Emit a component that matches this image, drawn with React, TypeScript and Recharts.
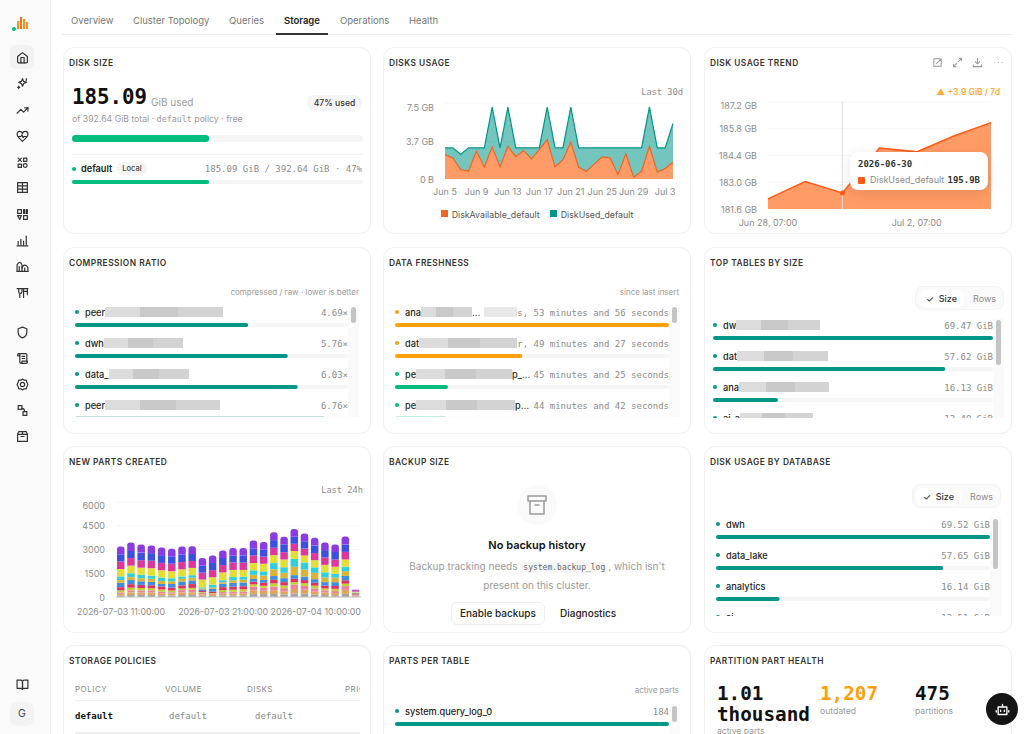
import type { CSSProperties, ReactNode } from 'react'
import {
  Area,
  AreaChart,
  Bar,
  BarChart,
  CartesianGrid,
  Legend,
  Tooltip,
  XAxis,
  YAxis,
} from 'recharts'

const SANS = 'Inter, "Noto Sans", sans-serif'
const MONO = '"DejaVu Sans Mono", monospace'
const GREEN = '#00bd7e'
const TEAL = '#009688'
const AMBER = '#ff9f0a'
const GRID = '#f6f6f6'
const TICK = '#8a8a8a'

// disks usage, GB per day
const usageDays = [
  'Jun 5', 'Jun 6', 'Jun 7', 'Jun 8', 'Jun 9', 'Jun 10', 'Jun 11', 'Jun 12', 'Jun 13', 'Jun 14',
  'Jun 15', 'Jun 16', 'Jun 17', 'Jun 18', 'Jun 19', 'Jun 20', 'Jun 21', 'Jun 22', 'Jun 23', 'Jun 24',
  'Jun 25', 'Jun 26', 'Jun 27', 'Jun 28', 'Jun 29', 'Jun 30', 'Jul 1', 'Jul 2', 'Jul 3', 'Jul 4',
]
const diskAvailable = [
  2.41, 2.08, 0.92, 0.79, 2.74, 1.19, 3.17, 1.19, 3.23, 2.21,
  2.8, 1.98, 2.9, 3.89, 1.19, 1.91, 3.63, 1.16, 0.76, 1.49,
  2.18, 2.08, 0.43, 2.48, 0.17, 0.76, 3.23, 0.69, 1.02, 1.68,
]
const diskUsed = [
  3.07, 3.07, 2.41, 3.07, 3.07, 3.07, 7.1, 3.07, 7.1, 3.07,
  3.07, 3.07, 3.07, 7.1, 3.07, 3.07, 7.1, 3.07, 3.07, 3.07,
  3.07, 3.07, 3.07, 3.07, 3.07, 3.07, 7.1, 3.07, 3.07, 5.48,
]
const usageTicks = [0, 1.9, 3.7, 7.5]

// disk usage trend
const trendDates = ['2026-06-28', '2026-06-29', '2026-06-30', '2026-07-01', '2026-07-02', '2026-07-03', '2026-07-04']
const trendLabels = ['Jun 28, 07:00', 'Jun 29, 07:00', 'Jun 30, 07:00', 'Jul 1, 07:00', 'Jul 2, 07:00', 'Jul 3, 07:00', 'Jul 4, 07:00']
const trendValues = [182.13, 183.04, 182.44, 184.79, 184.59, 185.42, 186.12]
const trendTicks = [181.6, 183.0, 184.4, 185.8, 187.2]

// new parts created, one array per stacked series, bottom to top
const partHours = [
  '2026-07-03 11:00:00', '2026-07-03 12:00:00', '2026-07-03 13:00:00', '2026-07-03 14:00:00',
  '2026-07-03 15:00:00', '2026-07-03 16:00:00', '2026-07-03 17:00:00', '2026-07-03 18:00:00',
  '2026-07-03 19:00:00', '2026-07-03 20:00:00', '2026-07-03 21:00:00', '2026-07-03 22:00:00',
  '2026-07-03 23:00:00', '2026-07-04 00:00:00', '2026-07-04 01:00:00', '2026-07-04 02:00:00',
  '2026-07-04 03:00:00', '2026-07-04 04:00:00', '2026-07-04 05:00:00', '2026-07-04 06:00:00',
  '2026-07-04 07:00:00', '2026-07-04 08:00:00', '2026-07-04 09:00:00', '2026-07-04 10:00:00',
]
const partsGray = [100, 130, 133, 130, 113, 100, 126, 137, 80, 57, 103, 100, 100, 186, 180, 193, 160, 220, 210, 155, 130, 115, 200, 40]
const partsOrange = [100, 160, 150, 150, 120, 110, 160, 160, 90, 70, 110, 120, 130, 230, 210, 240, 200, 290, 250, 200, 150, 130, 250, 45]
const partsPink = [90, 130, 130, 140, 110, 90, 150, 160, 90, 50, 100, 110, 120, 230, 200, 230, 200, 280, 240, 190, 140, 130, 240, 40]
const partsLime = [130, 170, 150, 130, 130, 110, 100, 120, 50, 70, 120, 130, 140, 150, 120, 200, 170, 150, 170, 170, 120, 140, 150, 30]
const partsCrimson = [200, 220, 200, 190, 200, 180, 200, 240, 70, 90, 190, 190, 190, 170, 190, 220, 210, 210, 200, 180, 180, 180, 220, 40]
const partsBlue = [280, 260, 230, 220, 150, 230, 240, 230, 100, 170, 210, 240, 240, 170, 180, 240, 250, 230, 220, 230, 220, 240, 270, 50]
const partsGold = [170, 190, 190, 190, 190, 170, 170, 170, 70, 90, 100, 170, 170, 260, 270, 430, 340, 530, 440, 400, 300, 290, 300, 30]
const partsCyan = [230, 240, 220, 200, 220, 190, 150, 160, 60, 180, 130, 200, 190, 290, 270, 390, 350, 500, 450, 350, 320, 240, 280, 0]
const partsYellow = [470, 480, 450, 470, 460, 450, 450, 460, 490, 470, 490, 450, 430, 460, 480, 500, 490, 490, 440, 450, 470, 450, 460, 60]
const partsMagenta = [480, 480, 470, 470, 460, 470, 460, 440, 440, 450, 470, 470, 460, 480, 450, 470, 460, 460, 440, 450, 470, 450, 480, 60]
const partsIndigo = [450, 450, 480, 480, 490, 470, 480, 440, 430, 450, 440, 440, 460, 440, 450, 480, 490, 450, 460, 470, 460, 480, 460, 0]
const partsPurple = [490, 530, 510, 480, 480, 470, 500, 490, 500, 470, 470, 480, 470, 500, 480, 500, 480, 490, 490, 490, 480, 470, 510, 70]
const partSeries = [partsGray, partsOrange, partsPink, partsLime, partsCrimson, partsBlue, partsGold, partsCyan, partsYellow, partsMagenta, partsIndigo, partsPurple]
const partColors = ['#a3a3a3', '#e0a457', '#e9829f', '#bcd52f', '#e4305f', '#3f8de2', '#dcb435', '#2fd0de', '#e3de36', '#de379b', '#3c50e0', '#8b3be2']
const partTicks = ['2026-07-03 11:00:00', '2026-07-03 21:00:00', '2026-07-04 10:00:00']

// meter lists
const diskTotal = 392.64
const diskUsedNow = 185.09

const compressionNames = ['peer', 'dwh', 'data_', 'peer']
const compressionMasks = [118, 79, 80, 115]
const compressionRatios = [4.69, 5.76, 6.03, 6.76]
const compressionLabels = ['4.69×', '5.76×', '6.03×', '6.76×']

const freshnessNames = ['ana', 'dat', 'pe', 'pe']
const freshnessMasks = [51, 98, 96, 99]
const freshnessTails = ['…', '', 'p_…', 'p…']
const freshnessHours = [26.9, 12.5, 5.2, 5.0]
const freshnessLabels = ['s, 53 minutes and 56 seconds', 'r, 49 minutes and 27 seconds', '45 minutes and 25 seconds', '44 minutes and 42 seconds']
const freshnessLeadMasks = [33, 0, 0, 0]
const freshnessColors = [AMBER, AMBER, GREEN, GREEN]

const tableNames = ['dw', 'dat', 'ana', 'ai_a']
const tableMasks = [84, 91, 90, 73]
const tableSizes = [69.47, 57.62, 16.13, 12.49]
const tableLabels = ['69.47 GiB', '57.62 GiB', '16.13 GiB', '12.49 GiB']

const databaseNames = ['dwh', 'data_lake', 'analytics', 'ai']
const databaseSizes = [69.52, 57.65, 16.14, 12.51]
const databaseLabels = ['69.52 GiB', '57.65 GiB', '16.14 GiB', '12.51 GiB']

const partsTableNames = ['system.query_log_0']
const partsTableCounts = [184]

const policyHeaders = ['POLICY', 'VOLUME', 'DISKS', 'PRIORITY']
const policyRow = ['default', 'default', 'default']

const tabs = ['Overview', 'Cluster Topology', 'Queries', 'Storage', 'Operations', 'Health']
const tabLefts = [71, 133, 229, 284, 340, 409]

const abs = (left: number, top: number, extra: CSSProperties = {}): CSSProperties => ({
  position: 'absolute',
  left,
  top,
  ...extra,
})

function Card({ left, top, height = 187, title, children }: { left: number; top: number; height?: number; title: string; children?: ReactNode }) {
  return (
    <div style={abs(left, top, { width: 308, height, border: '1px solid #f1f1f1', borderRadius: 11, boxSizing: 'border-box', background: '#fff' })}>
      <div style={abs(5, 8.5, { fontSize: 8.4, fontWeight: 600, letterSpacing: 0.48, color: '#333', lineHeight: '12px', whiteSpace: 'nowrap' })}>{title}</div>
      {children}
    </div>
  )
}

function Meter({ value, max, color, width, height = 4 }: { value: number; max: number; color: string; width: number; height?: number }) {
  const radius = height / 2
  return (
    <BarChart width={width} height={height} data={[{ name: 'v', value }]} layout="vertical" margin={{ top: 0, right: 0, bottom: 0, left: 0 }} barCategoryGap={0}>
      <XAxis type="number" hide domain={[0, max]} />
      <YAxis type="category" dataKey="name" hide />
      <Bar dataKey="value" fill={color} radius={radius} background={{ fill: '#f5f5f5', radius }} isAnimationActive={false} />
    </BarChart>
  )
}

function Mask({ width, light }: { width: number; light?: boolean }) {
  const bg = light
    ? '#e8e8e8'
    : 'linear-gradient(90deg,#dcdcdc 0 30%,#c9c9c9 30% 62%,#d3d3d3 62% 100%)'
  return <span style={{ display: 'inline-block', width, height: 10, background: bg, verticalAlign: -1.5, filter: 'blur(0.4px)' }} />
}

type ListProps = {
  left: number
  top: number
  width: number
  clip: number
  names: string[]
  masks?: number[]
  tails?: string[]
  values: number[]
  max: number
  labels: string[]
  leadMasks?: number[]
  colors?: string[]
  thumb: number
  trackRight?: number
}

// rows of dot + name + value over a meter, in a clipped scroll area
function MeterList({ left, top, width, clip, names, masks, tails, values, max, labels, leadMasks, colors, thumb, trackRight = 11 }: ListProps) {
  return (
    <>
      <div style={abs(left, top, { width, height: clip, overflow: 'hidden' })}>
        {names.map((name, i) => {
          const color = colors ? colors[i] : TEAL
          return (
            <div key={i} style={abs(0, 31 * i, { width, height: 31 })}>
              <div style={abs(0, 5, { width: 4, height: 4, borderRadius: 2, background: color })} />
              <div style={abs(10, 1.5, { fontSize: 9.2, fontWeight: 500, color: '#222', lineHeight: '12px', whiteSpace: 'nowrap' })}>
                {name}
                {masks && <Mask width={masks[i]} />}
                {tails && tails[i]}
              </div>
              <div style={abs(0, 1.5, { width, textAlign: 'right', fontFamily: MONO, fontSize: 9, color: '#8a8a8a', lineHeight: '12px', whiteSpace: 'nowrap' })}>
                {leadMasks && leadMasks[i] > 0 && <Mask width={leadMasks[i]} light />}
                {labels[i]}
              </div>
              <div style={abs(0, 18, { opacity: i === 3 ? 0.25 : 1 })}>
                <Meter value={values[i]} max={max} color={color} width={width} />
              </div>
            </div>
          )
        })}
      </div>
      <div style={abs(left + width, top, { width: trackRight, height: clip, background: '#fafafa' })}>
        <div style={abs(3, 2, { width: 5, height: thumb, borderRadius: 3, background: '#c4c4c4' })} />
      </div>
    </>
  )
}

function SizeToggle({ left, top }: { left: number; top: number }) {
  return (
    <div style={abs(left, top, { width: 89, height: 24, borderRadius: 8, border: '1px solid #f3f3f3', background: '#fafafa', boxSizing: 'border-box' })}>
      <div style={abs(3, 3, { width: 45, height: 17, borderRadius: 6, background: '#fff', fontSize: 9, fontWeight: 500, color: '#333', lineHeight: '17px', textAlign: 'center' })}>✓&nbsp; Size</div>
      <div style={abs(57, 3, { fontSize: 9, color: '#8a8a8a', lineHeight: '17px' })}>Rows</div>
    </div>
  )
}

function Icon({ x, y, size = 13, color = '#333', width = 2.2, children }: { x: number; y: number; size?: number; color?: string; width?: number; children: ReactNode }) {
  return (
    <svg style={abs(x - size / 2, y - size / 2)} width={size} height={size} viewBox="0 0 24 24" fill="none" stroke={color} strokeWidth={width} strokeLinecap="round" strokeLinejoin="round">
      {children}
    </svg>
  )
}

function Sidebar() {
  const d = (...paths: string[]) => paths.map((p, i) => <path key={i} d={p} />)
  return (
    <div style={abs(0, 0, { width: 51, height: 734, background: '#fafafa', borderRight: '1px solid #f0f0f0', boxSizing: 'border-box' })}>
      <svg style={abs(12, 16)} width={18} height={16}>
        <rect x="5" y="5" width="2" height="8" fill="#ff8a1f" />
        <rect x="8" y="1" width="2" height="12" fill="#ff6a13" />
        <rect x="11" y="3" width="2" height="10" fill="#ff8a1f" />
        <rect x="14" y="6" width="2" height="7" fill="#ff8a1f" />
        <circle cx="2" cy="13" r="2" fill={GREEN} />
      </svg>
      <div style={abs(10, 45, { width: 24, height: 24, borderRadius: 6, background: '#f2f2f2' })} />
      <Icon x={22} y={57}>{d('M3 10l9-7 9 7v10a2 2 0 0 1-2 2H5a2 2 0 0 1-2-2z', 'M9 22V12h6v10')}</Icon>
      <Icon x={22} y={83}>{d('M12 3l2 5 5 2-5 2-2 5-2-5-5-2 5-2z', 'M19 3v4', 'M5 17v4', 'M3 19h4')}</Icon>
      <Icon x={22} y={110}>{d('M2 17l7-7 5 5 8-8', 'M16 7h6v6')}</Icon>
      <Icon x={22} y={136}>{d('M12 21C5 15 2 12 2 8a5 5 0 0 1 10-1 5 5 0 0 1 10 1c0 4-3 7-10 13z', 'M4 12h5l2-3 2 5 2-2h5')}</Icon>
      <Icon x={22} y={162}>{d('M4 4l6 6', 'M10 4l-6 6', 'M14 4h6v6h-6z', 'M4 15h6v6H4z', 'M17 14a3.5 3.5 0 1 1 0 7 3.5 3.5 0 0 1 0-7z')}</Icon>
      <Icon x={22} y={187}>{d('M3 3h18v18H3z', 'M3 9h18', 'M3 15h18', 'M12 3v18')}</Icon>
      <Icon x={22} y={214}>{d('M3 3h7v7H3z', 'M14 3h2v7h-2z', 'M19 3h2v7h-2z', 'M3 14h7l-3 7z', 'M14 14h7v7h-7z')}</Icon>
      <Icon x={22} y={240}>{d('M4 20v-6', 'M9 20v-10', 'M14 20v-7', 'M19 20V4', 'M2 22h20')}</Icon>
      <Icon x={22} y={266}>{d('M2 21V9c3-6 7-6 9 0v12', 'M11 15c2-7 8-7 11-1v7', 'M2 21h20', 'M6 21v-9', 'M16 21v-6')}</Icon>
      <Icon x={22} y={292}>{d('M2 5h20', 'M5 5v5c0 5 6 5 6 0V5', 'M14 5v16', 'M14 10h7', 'M21 5v11', 'M7 15v6')}</Icon>
      <Icon x={22} y={332}>{d('M12 2l8 3v7c0 5-3 8-8 10-5-2-8-5-8-10V5z')}</Icon>
      <Icon x={22} y={358}>{d('M5 3h13a2 2 0 0 1 2 2v12', 'M5 3a2 2 0 0 0-2 2v2h4', 'M7 3v15a3 3 0 0 0 3 3h9a2 2 0 0 0 2-2v-2H11v2a2 2 0 0 1-2 2', 'M11 8h5', 'M11 12h5')}</Icon>
      <Icon x={22} y={384}>{d('M12 2l3 2 4 0 1 4 2 4-2 4-1 4-4 0-3 2-3-2-4 0-1-4-2-4 2-4 1-4 4 0z', 'M12 8a4 4 0 1 1 0 8 4 4 0 0 1 0-8z')}</Icon>
      <Icon x={22} y={410}>{d('M4 3h7v7H4z', 'M13 14h7v7h-7z', 'M11 8c4 0 5 2 5 6')}</Icon>
      <Icon x={22} y={436}>{d('M3 8l2-5h14l2 5v13H3z', 'M3 8h18', 'M9 12h6', 'M12 3v5')}</Icon>
      <Icon x={22} y={684}>{d('M2 4h7a3 3 0 0 1 3 3v14a2 2 0 0 0-2-2H2z', 'M22 4h-7a3 3 0 0 0-3 3v14a2 2 0 0 1 2-2h8z')}</Icon>
      <div style={abs(10, 702, { width: 24, height: 24, borderRadius: 7, background: '#f3f3f3', fontSize: 10.5, lineHeight: '24px', textAlign: 'center', color: '#444' })}>G</div>
    </div>
  )
}

// top tick is nudged down so its label stays inside the plot, as in the original
function yTick(top: number, shift: number, format: (v: number) => string) {
  return ({ x, y, payload }: { x: number; y: number; payload: { value: number } }) => (
    <text x={x} y={y + (payload.value === top ? shift : 0)} dy={3.5} textAnchor="end" fontSize={9} fill={TICK} fontFamily={SANS}>
      {format(payload.value)}
    </text>
  )
}

function DisksUsageChart() {
  const data = usageDays.map((day, i) => ({ day, DiskAvailable_default: diskAvailable[i], DiskUsed_default: diskUsed[i] }))
  return (
    <AreaChart width={306} height={140} data={data} margin={{ top: 12, right: 17, bottom: 4, left: 0 }}>
      <CartesianGrid horizontal vertical={false} stroke={GRID} />
      <XAxis dataKey="day" interval={3} axisLine={false} tickLine={false} tick={{ fontSize: 9, fill: TICK, fontFamily: SANS }} tickMargin={4} height={20} />
      <YAxis domain={[0, 7.5]} ticks={usageTicks} axisLine={false} tickLine={false} width={61} tickMargin={5} tick={yTick(7.5, 4, (v) => (v === 0 ? '0 B' : `${v} GB`))} />
      <Area dataKey="DiskUsed_default" type="linear" stroke={TEAL} strokeWidth={1.2} fill="#009688" fillOpacity={0.55} dot={false} activeDot={false} isAnimationActive={false} />
      <Area dataKey="DiskAvailable_default" type="linear" stroke="#f0651f" strokeWidth={1.2} fill="#ff9b66" fillOpacity={1} dot={false} activeDot={false} isAnimationActive={false} />
      <Legend
        iconType="square"
        iconSize={7}
        height={28}
        wrapperStyle={{ left: 5, width: 306, bottom: 1 }}
        formatter={(value) => <span style={{ color: '#555', fontSize: 8.8, fontFamily: SANS }}>{value}</span>}
      />
    </AreaChart>
  )
}

function TrendTooltip({ active, payload }: { active?: boolean; payload?: { value: number; payload: { date: string } }[] }) {
  if (!active || !payload || !payload.length) return null
  return (
    <div style={{ width: 138, height: 38, boxSizing: 'border-box', padding: '6px 8px', background: '#fff', borderRadius: 8, boxShadow: '0 3px 14px rgba(0,0,0,0.10)', fontFamily: SANS }}>
      <div style={{ fontFamily: MONO, fontSize: 9, fontWeight: 600, color: '#333', lineHeight: '12px' }}>{payload[0].payload.date}</div>
      <div style={{ display: 'flex', alignItems: 'center', marginTop: 4, fontSize: 9, lineHeight: '12px' }}>
        <span style={{ width: 7, height: 7, borderRadius: 1, background: '#ff5a14', marginRight: 5 }} />
        <span style={{ color: '#8a8a8a' }}>DiskUsed_default</span>
        <span style={{ marginLeft: 'auto', fontFamily: MONO, fontWeight: 600, color: '#333' }}>195.9B</span>
      </div>
    </div>
  )
}

function TrendChart() {
  const data = trendDates.map((date, i) => ({ date, label: trendLabels[i], DiskUsed_default: trendValues[i] }))
  return (
    <AreaChart width={306} height={138} data={data} margin={{ top: 10, right: 20, bottom: 0, left: 0 }}>
      <CartesianGrid horizontal vertical={false} stroke={GRID} />
      <XAxis dataKey="label" interval={3} axisLine={false} tickLine={false} tick={{ fontSize: 9, fill: TICK, fontFamily: SANS }} tickMargin={5} height={21} />
      <YAxis domain={[181.6, 187.2]} ticks={trendTicks} axisLine={false} tickLine={false} width={63} tickMargin={5} tick={yTick(187.2, 3.5, (v) => `${v.toFixed(1)} GB`)} />
      <Tooltip defaultIndex={2} content={<TrendTooltip />} position={{ x: 145, y: 60 }} cursor={{ stroke: '#dedede', strokeWidth: 1 }} isAnimationActive={false} wrapperStyle={{ zIndex: 5, outline: 'none' }} />
      <Area dataKey="DiskUsed_default" type="linear" stroke="#ff5a14" strokeWidth={1.5} fill="#ff9b66" fillOpacity={1} dot={false} activeDot={{ r: 2.5, fill: '#ff5a14', stroke: 'none' }} isAnimationActive={false} />
    </AreaChart>
  )
}

function PartTick({ x, y, payload }: { x: number; y: number; payload: { value: string } }) {
  const last = payload.value === partTicks[2]
  return (
    <text x={last ? x + 5 : x} y={y} dy={10} textAnchor={last ? 'end' : 'middle'} fontSize={8.8} fill={TICK} fontFamily={SANS}>
      {payload.value}
    </text>
  )
}

function NewPartsChart() {
  const data = partHours.map((hour, i) => {
    const row: Record<string, number | string> = { hour }
    partSeries.forEach((s, k) => (row[`s${k}`] = s[i]))
    return row
  })
  return (
    <BarChart width={306} height={142} data={data} margin={{ top: 10, right: 9, bottom: 0, left: 0 }}>
      <CartesianGrid horizontal vertical={false} stroke={GRID} />
      <XAxis dataKey="hour" ticks={partTicks} interval={0} stroke="#c4c4c4" tickLine={false} tick={PartTick} height={37} />
      <YAxis domain={[0, 6000]} ticks={[0, 1500, 3000, 4500, 6000]} axisLine={false} tickLine={false} width={52} tickMargin={5} tick={yTick(6000, 3, (v) => String(v))} />
      {partSeries.map((_, k) => (
        <Bar
          key={k}
          dataKey={`s${k}`}
          stackId="parts"
          fill={partColors[k]}
          barSize={7.5}
          radius={k === partSeries.length - 1 ? [3, 3, 0, 0] : 0}
          isAnimationActive={false}
        />
      ))}
    </BarChart>
  )
}

function Cap({ right, top, text, extra }: { right: number; top: number; text: ReactNode; extra?: CSSProperties }) {
  return (
    <div style={{ position: 'absolute', right, top, fontSize: 8, color: '#9a9a9a', lineHeight: '12px', whiteSpace: 'nowrap', ...extra }}>
      {text}
    </div>
  )
}

const monoCap: CSSProperties = { fontFamily: MONO, fontSize: 8.7, color: '#8a8a8a' }
const xCols = [383, 704]

export default function App() {
  return (
    <div style={{ position: 'fixed', left: 0, top: 0, width: 1024, height: 734, overflow: 'hidden', background: '#fff', fontFamily: SANS, color: '#222' }}>
      <Sidebar />

      {tabs.map((tab, i) => (
        <div key={tab} style={abs(tabLefts[i], 14, { fontSize: 9.5, lineHeight: '13px', color: tab === 'Storage' ? '#222' : '#777', fontWeight: tab === 'Storage' ? 600 : 400, whiteSpace: 'nowrap' })}>
          {tab}
        </div>
      ))}
      <div style={abs(62, 34, { width: 950, height: 1, background: '#eee' })} />
      <div style={abs(276, 33, { width: 52, height: 2, background: '#333' })} />

      {/* row 1 */}
      <Card left={63} top={47} title="DISK SIZE">
        <div style={abs(8, 36, { fontFamily: MONO, fontWeight: 700, fontSize: 20.8, lineHeight: '26px', color: '#111' })}>185.09</div>
        <div style={abs(87, 47, { fontSize: 10, lineHeight: '14px', color: '#999' })}>GiB used</div>
        <div style={abs(243, 47, { width: 55, height: 16, borderRadius: 8, background: '#f5f5f5', textAlign: 'center', fontSize: 8.6, fontWeight: 500, lineHeight: '16px', color: '#333' })}>47% used</div>
        <div style={abs(8, 65, { fontSize: 8.7, lineHeight: '12px', color: '#999', whiteSpace: 'nowrap' })}>
          of 392.64 GiB total · <span style={{ fontFamily: MONO, fontSize: 8.4 }}>default</span> policy · free
        </div>
        <div style={abs(8, 87)}><Meter value={diskUsedNow} max={diskTotal} color={GREEN} width={291} height={7} /></div>
        <div style={abs(8, 106, { width: 291, height: 1, background: '#f2f2f2' })} />
        <div style={abs(8, 119, { width: 4, height: 4, borderRadius: 2, background: GREEN })} />
        <div style={abs(17, 115, { fontSize: 9.2, fontWeight: 600, lineHeight: '12px', color: '#222' })}>default</div>
        <div style={abs(53, 114, { width: 30, height: 13, borderRadius: 6, background: '#f5f5f5', textAlign: 'center', fontSize: 7.5, fontWeight: 500, lineHeight: '13px', color: '#444' })}>Local</div>
        <Cap right={8} top={115} text="185.09 GiB / 392.64 GiB · 47%" extra={{ ...monoCap, fontSize: 9 }} />
        <div style={abs(8, 132)}><Meter value={diskUsedNow} max={diskTotal} color={GREEN} width={291} /></div>
      </Card>

      <Card left={xCols[0]} top={47} title="DISKS USAGE">
        <Cap right={7} top={38} text="Last 30d" extra={monoCap} />
        <div style={abs(0, 43)}><DisksUsageChart /></div>
      </Card>

      <Card left={xCols[1]} top={47} title="DISK USAGE TREND">
        <Icon x={232} y={14} size={11} color="#999"><path d="M4 4h10M4 4v16h16V10M10 14L20 4M14 4h6v6" /></Icon>
        <Icon x={252} y={14} size={11} color="#999"><path d="M14 10l7-7M16 3h5v5M10 14l-7 7M8 21H3v-5" /></Icon>
        <Icon x={272} y={14} size={11} color="#999"><path d="M12 3v12M7 10l5 5 5-5M3 17v4h18v-4" /></Icon>
        <Icon x={293} y={14} size={11} color="#999"><path d="M4 12h.01M12 12h.01M20 12h.01" /></Icon>
        <Cap right={11} top={38} text="▲ +3.9 GiB / 7d" extra={{ color: '#ffab2e', fontWeight: 600, fontSize: 8.5 }} />
        <div style={abs(0, 44)}><TrendChart /></div>
      </Card>

      {/* row 2 */}
      <Card left={63} top={247} title="COMPRESSION RATIO">
        <Cap right={11} top={38} text="compressed / raw · lower is better" />
        <MeterList left={11} top={57} width={273} clip={112} names={compressionNames} masks={compressionMasks} values={compressionRatios} max={7.39} labels={compressionLabels} thumb={16} />
      </Card>

      <Card left={xCols[0]} top={247} title="DATA FRESHNESS">
        <Cap right={11} top={38} text="since last insert" />
        <MeterList left={11} top={57} width={274} clip={112} names={freshnessNames} masks={freshnessMasks} tails={freshnessTails} values={freshnessHours} max={26.9} labels={freshnessLabels} leadMasks={freshnessLeadMasks} colors={freshnessColors} thumb={16} />
      </Card>

      <Card left={xCols[1]} top={247} title="TOP TABLES BY SIZE">
        <SizeToggle left={210} top={38} />
        <MeterList left={8} top={70} width={280} clip={100} names={tableNames} masks={tableMasks} values={tableSizes} max={69.47} labels={tableLabels} thumb={45} />
      </Card>

      {/* row 3 */}
      <Card left={63} top={446} title="NEW PARTS CREATED">
        <Cap right={7} top={37} text="Last 24h" extra={monoCap} />
        <div style={abs(0, 45)}><NewPartsChart /></div>
      </Card>

      <Card left={xCols[0]} top={446} title="BACKUP SIZE">
        <div style={abs(133, 38, { width: 40, height: 40, borderRadius: 20, background: '#fafafa' })} />
        <Icon x={153} y={58} size={24} color="#999" width={1.5}><path d="M3 3h18v5H3zM5 8v13h14V8M10 12h4" /></Icon>
        <div style={abs(0, 90, { width: 306, textAlign: 'center', fontSize: 11, fontWeight: 600, lineHeight: '16px', color: '#111' })}>No backup history</div>
        <div style={abs(0, 111, { width: 306, textAlign: 'center', fontSize: 10, lineHeight: '16.5px', color: '#999' })}>
          Backup tracking needs <span style={{ fontFamily: MONO, fontSize: 8, background: '#f6f6f6', padding: '1px 3px', borderRadius: 3, color: '#666' }}>system.backup_log</span>, which isn't
          <br />
          present on this cluster.
        </div>
        <div style={abs(67, 155, { width: 94, height: 23, borderRadius: 6, border: '1px solid #eee', boxSizing: 'border-box', textAlign: 'center', fontSize: 10, fontWeight: 500, lineHeight: '21px', color: '#222' })}>Enable backups</div>
        <div style={abs(176, 155, { fontSize: 10, fontWeight: 500, lineHeight: '23px', color: '#222' })}>Diagnostics</div>
      </Card>

      <Card left={xCols[1]} top={446} title="DISK USAGE BY DATABASE">
        <SizeToggle left={207} top={37} />
        <MeterList left={11} top={70} width={274} clip={99} names={databaseNames} values={databaseSizes} max={69.52} labels={databaseLabels} thumb={50} />
      </Card>

      {/* row 4 */}
      <Card left={63} top={645} height={120} title="STORAGE POLICIES">
        <div style={abs(11, 37, { width: 285, height: 60, overflow: 'hidden' })}>
          {policyHeaders.map((h, i) => (
            <div key={h} style={abs([0, 90, 172, 270][i], 0, { fontSize: 8, letterSpacing: 0.5, lineHeight: '12px', color: '#888', whiteSpace: 'nowrap' })}>{h}</div>
          ))}
          <div style={abs(0, 17, { width: 285, height: 1, background: '#eee' })} />
          {policyRow.map((c, i) => (
            <div key={i} style={abs([0, 94, 180][i], 27, { fontFamily: MONO, fontSize: 9, lineHeight: '12px', fontWeight: i === 0 ? 700 : 400, color: i === 0 ? '#111' : '#888' })}>{c}</div>
          ))}
          <div style={abs(0, 49, { width: 285, height: 5, background: '#eee' })} />
        </div>
      </Card>

      <Card left={xCols[0]} top={645} height={120} title="PARTS PER TABLE">
        <Cap right={11} top={38} text="active parts" />
        <MeterList left={11} top={58} width={274} clip={40} names={partsTableNames} values={partsTableCounts} max={184} labels={partsTableCounts.map(String)} thumb={16} />
      </Card>

      <Card left={xCols[1]} top={645} height={120} title="PARTITION PART HEALTH">
        <div style={abs(12, 37, { width: 100, fontFamily: MONO, fontWeight: 700, fontSize: 19.3, lineHeight: '21px', color: '#111' })}>1.01<br />thousand</div>
        <div style={abs(12, 79, { fontSize: 8.6, lineHeight: '12px', color: '#999' })}>active parts</div>
        <div style={abs(115, 37, { fontFamily: MONO, fontWeight: 700, fontSize: 19.3, lineHeight: '21px', color: AMBER })}>1,207</div>
        <div style={abs(115, 59, { fontSize: 8.6, lineHeight: '12px', color: '#999' })}>outdated</div>
        <div style={abs(210, 37, { fontFamily: MONO, fontWeight: 700, fontSize: 19.3, lineHeight: '21px', color: '#111' })}>475</div>
        <div style={abs(210, 59, { fontSize: 8.6, lineHeight: '12px', color: '#999' })}>partitions</div>
      </Card>

      <div style={abs(986, 693, { width: 32, height: 32, borderRadius: 16, background: '#151515' })}>
        <Icon x={16} y={16} size={15} color="#fff"><path d="M12 4v4M5 8h14v12H5zM9 13v2M15 13v2M2 14v2M22 14v2" /></Icon>
      </div>
    </div>
  )
}
